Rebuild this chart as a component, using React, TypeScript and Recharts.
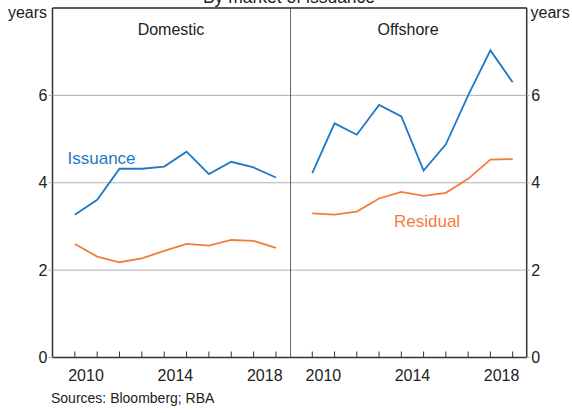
import React from 'react';
import { LineChart, Line, XAxis, YAxis, CartesianGrid, ReferenceLine } from 'recharts';

const years = [2010, 2011, 2012, 2013, 2014, 2015, 2016, 2017, 2018, 2019];
const domesticIssuance = [3.27, 3.61, 4.32, 4.32, 4.37, 4.71, 4.2, 4.48, 4.35, 4.12];
const domesticResidual = [2.6, 2.31, 2.18, 2.27, 2.44, 2.6, 2.56, 2.69, 2.67, 2.51];
const offshoreIssuance = [4.22, 5.36, 5.1, 5.78, 5.52, 4.28, 4.88, 6.0, 7.03, 6.3];
const offshoreResidual = [3.3, 3.27, 3.34, 3.64, 3.79, 3.7, 3.77, 4.09, 4.53, 4.54];
const yTicks = [0, 2, 4, 6];
const labelYears = [2010, 2014, 2018];

const FONT = "Arial, 'Liberation Sans', sans-serif";
const BLUE = '#1f78c4';
const ORANGE = '#f47b3c';
const FRAME = '#333333';
const GRID = '#b0b0b0';
const TEXT = '#222222';

const X_DOMAIN: [number, number] = [2009, 2019.63];

const domesticData = years.map((year, i) => ({ year, issuance: domesticIssuance[i], residual: domesticResidual[i] }));
const offshoreData = years.map((year, i) => ({ year, issuance: offshoreIssuance[i], residual: offshoreResidual[i] }));

const tickStyle = { fill: TEXT, fontSize: 16, fontFamily: FONT };

// bottom axis with inward ticks at year boundaries, plus a label axis at mid-year,
// and a tickless top axis that closes the frame
function xAxes() {
  return [
    <XAxis
      key="main"
      dataKey="year"
      type="number"
      domain={X_DOMAIN}
      ticks={years}
      mirror
      height={1}
      tickSize={6}
      tickFormatter={() => ''}
      axisLine={{ stroke: FRAME, strokeWidth: 1.5 }}
      tickLine={{ stroke: FRAME }}
    />,
    <XAxis
      key="lab"
      xAxisId="lab"
      dataKey="year"
      type="number"
      domain={X_DOMAIN}
      ticks={labelYears.map((y) => y + 0.5)}
      tickFormatter={(v: number) => String(Math.floor(v))}
      height={30}
      tickSize={6}
      tickMargin={6}
      axisLine={false}
      tickLine={false}
      tick={tickStyle}
    />,
    <XAxis
      key="top"
      xAxisId="top"
      orientation="top"
      dataKey="year"
      type="number"
      domain={X_DOMAIN}
      mirror
      height={1}
      tick={false}
      tickLine={false}
      axisLine={{ stroke: FRAME, strokeWidth: 1.5 }}
    />,
  ];
}

export default function App() {
  return (
    <div style={{ position: 'absolute', left: 0, top: 0, width: 572, height: 413, background: '#fff', fontFamily: FONT }}>
      <div style={{ position: 'absolute', left: 0, top: 0 }}>
        <LineChart width={290} height={413} data={domesticData} margin={{ top: 8, right: 0, left: 0, bottom: 25.5 }}>
          <CartesianGrid horizontal vertical={false} stroke={GRID} />
          {xAxes()}
          <YAxis
            type="number"
            domain={[0, 8]}
            ticks={yTicks}
            width={52.5}
            tickSize={4}
            tickMargin={1}
            axisLine={{ stroke: FRAME, strokeWidth: 1.5 }}
            tickLine={{ stroke: GRID }}
            tick={tickStyle}
          />
          <Line dataKey="issuance" stroke={BLUE} strokeWidth={1.8} dot={false} isAnimationActive={false} />
          <Line dataKey="residual" stroke={ORANGE} strokeWidth={1.8} dot={false} isAnimationActive={false} />
        </LineChart>
      </div>
      <div style={{ position: 'absolute', left: 290, top: 0 }}>
        <LineChart width={282} height={413} data={offshoreData} margin={{ top: 8, right: 0, left: 0, bottom: 25.5 }}>
          <CartesianGrid horizontal vertical={false} stroke={GRID} yAxisId="r" />
          {xAxes()}
          <YAxis
            yAxisId="r"
            orientation="right"
            type="number"
            domain={[0, 8]}
            ticks={yTicks}
            width={45.3}
            tickSize={3}
            tickMargin={1.5}
            axisLine={{ stroke: FRAME, strokeWidth: 1.5 }}
            tickLine={{ stroke: GRID }}
            tick={tickStyle}
          />
          <ReferenceLine x={X_DOMAIN[0]} yAxisId="r" stroke={FRAME} strokeWidth={1.5} />
          <Line yAxisId="r" dataKey="issuance" stroke={BLUE} strokeWidth={1.8} dot={false} isAnimationActive={false} />
          <Line yAxisId="r" dataKey="residual" stroke={ORANGE} strokeWidth={1.8} dot={false} isAnimationActive={false} />
        </LineChart>
      </div>
      <svg width={572} height={413} style={{ position: 'absolute', left: 0, top: 0, pointerEvents: 'none' }}>
        <g fontFamily={FONT} fill={TEXT}>
          <text x={289} y={3} fontSize={17.5} textAnchor="middle">By market of issuance</text>
          <text x={47} y={18} fontSize={16} textAnchor="end">years</text>
          <text x={530.5} y={18} fontSize={16}>years</text>
          <text x={171} y={35} fontSize={16} textAnchor="middle">Domestic</text>
          <text x={408} y={35} fontSize={16} textAnchor="middle">Offshore</text>
          <text x={51} y={403} fontSize={14}>Sources: Bloomberg; RBA</text>
        </g>
        <text x={67.5} y={164} fontSize={17} fontFamily={FONT} fill={BLUE}>Issuance</text>
        <text x={394} y={226.5} fontSize={17} fontFamily={FONT} fill={ORANGE}>Residual</text>
      </svg>
    </div>
  );
}
